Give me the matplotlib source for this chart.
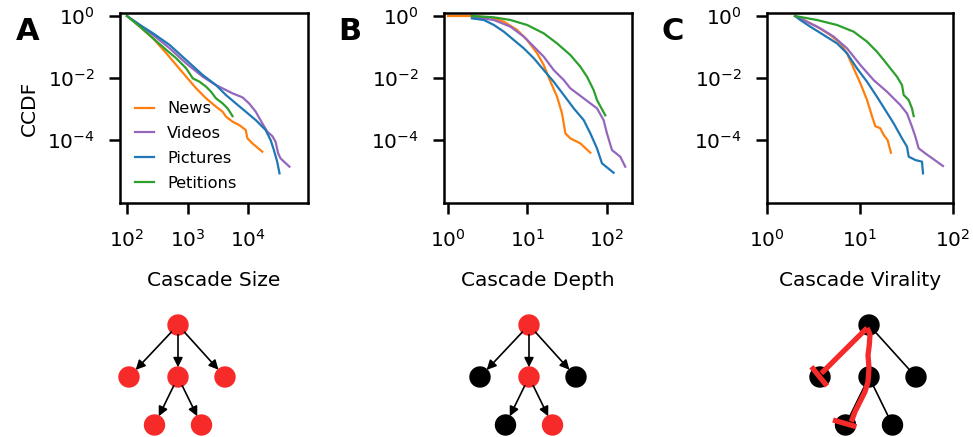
import matplotlib
matplotlib.use("Agg")
import matplotlib.pyplot as plt
from matplotlib.patches import Circle

# ---------------- data: complementary CDFs of cascade structure ----------------
categories = ["News", "Videos", "Pictures", "Petitions"]
colors = {"News": "#ff7f0e", "Videos": "#9467bd", "Pictures": "#1f77b4", "Petitions": "#2ca02c"}

size_news_x = [100, 163, 270, 447, 652, 950, 1386, 2023, 2951, 3795, 4306, 5540, 7120, 9150, 9750, 11780, 17180]
size_news_y = [1.0, 0.453, 0.19, 0.0625, 0.0262, 0.011, 0.00464, 0.00221, 0.00119, 8.2e-4, 5.7e-4, 3.9e-4, 3.05e-4, 2.1e-4, 1.13e-4, 7.8e-5, 4.2e-5]
size_videos_x = [100, 163, 270, 507, 950, 1783, 2951, 4306, 5540, 8070, 10380, 13370, 17180, 20750, 25060, 28430, 31440, 34330, 48200]
size_videos_y = [1.0, 0.513, 0.244, 0.0906, 0.0297, 0.011, 0.0059, 0.0041, 0.0032, 0.00238, 0.00152, 8.2e-4, 3.45e-4, 1.86e-4, 1.35e-4, 8.8e-5, 3.7e-5, 2.56e-5, 1.38e-5]
size_pictures_x = [100, 163, 270, 507, 950, 1783, 2951, 4306, 6280, 9150, 13370, 19500, 23550, 26700, 30260, 33050]
size_pictures_y = [1.0, 0.513, 0.276, 0.116, 0.0381, 0.0125, 0.0059, 0.00283, 0.00152, 8.2e-4, 4.4e-4, 2.1e-4, 1.0e-4, 4.75e-5, 2.0e-5, 8.4e-6]
size_petitions_x = [100, 163, 270, 447, 652, 950, 1222, 1573, 2023, 2443, 2951, 3795, 4580, 5540]
size_petitions_y = [1.0, 0.453, 0.19, 0.08, 0.0431, 0.0205, 0.00976, 0.0076, 0.00525, 0.00362, 0.00221, 0.00152, 0.00105, 5.9e-4]

depth_news_x = [1, 2, 3.44, 5.06, 7.45, 9.95, 13.3, 16.1, 19.6, 23.7, 27.4, 30.2, 34.9, 46.6, 62.3]
depth_news_y = [1.0, 1.0, 0.906, 0.656, 0.353, 0.168, 0.0625, 0.0262, 0.0076, 0.0025, 7.2e-4, 1.64e-4, 1.13e-4, 7.8e-5, 3.9e-5]
depth_videos_x = [2, 3.79, 6.14, 9.03, 12.1, 16.1, 21.5, 28.8, 34.9, 51.4, 75.6, 91.6, 101, 116.8, 148.6, 171.8]
depth_videos_y = [0.95, 0.743, 0.453, 0.216, 0.1025, 0.0488, 0.0181, 0.0086, 0.00464, 0.00221, 0.00105, 4.4e-4, 1.64e-4, 4.75e-5, 2.9e-5, 1.38e-5]
depth_pictures_x = [2, 2.84, 3.79, 5.06, 6.76, 9.03, 12.1, 16.1, 21.5, 28.8, 38.5, 51.4, 62.3, 75.6, 87.4, 122.5]
depth_pictures_y = [0.84, 0.743, 0.513, 0.312, 0.168, 0.0906, 0.0431, 0.0181, 0.0076, 0.00283, 0.00105, 4.4e-4, 1.64e-4, 5.4e-5, 1.77e-5, 8.8e-6]
depth_petitions_x = [2, 3.79, 6.14, 9.95, 16.1, 23.7, 34.9, 46.6, 56.6, 68.6, 75.6, 96.2]
depth_petitions_y = [1.0, 0.906, 0.743, 0.513, 0.276, 0.131, 0.0552, 0.0232, 0.011, 0.0041, 0.00195, 6.25e-4]

vir_news_x = [2, 2.48, 3.45, 4.8, 6.15, 7.25, 8.55, 10.1, 11.9, 13.5, 14.6, 16.5, 18.0, 19.8, 21.5]
vir_news_y = [1.0, 0.743, 0.453, 0.244, 0.131, 0.0625, 0.0205, 0.0067, 0.00195, 5.7e-4, 2.8e-4, 2.4e-4, 1.45e-4, 1.0e-4, 3.9e-5]
vir_videos_x = [2, 2.69, 3.74, 5.21, 7.25, 10.1, 14.0, 19.5, 27.1, 32.0, 36.2, 39.4, 42.7, 50.4, 62.0, 78.0]
vir_videos_y = [1.0, 0.656, 0.4, 0.216, 0.0906, 0.0262, 0.0086, 0.00362, 0.00135, 7.2e-4, 2.7e-4, 1.28e-4, 5.4e-5, 3.7e-5, 2.38e-5, 1.45e-5]
vir_pictures_x = [2, 2.28, 2.92, 4.07, 5.66, 7.25, 9.28, 11.9, 15.2, 18.7, 23.0, 28.3, 32.0, 33.4, 39.4, 46.4, 47.6]
vir_pictures_y = [1.0, 0.743, 0.453, 0.244, 0.131, 0.0625, 0.0205, 0.0076, 0.0025, 9.3e-4, 3.45e-4, 1.13e-4, 6.1e-5, 2.9e-5, 2.26e-5, 2.0e-5, 8.4e-6]
vir_petitions_x = [2, 3.45, 5.66, 8.55, 11.9, 15.2, 18.0, 21.2, 25.0, 28.3, 29.5, 33.4, 36.2, 37.8]
vir_petitions_y = [1.0, 0.743, 0.513, 0.312, 0.149, 0.0707, 0.0381, 0.0205, 0.011, 0.0059, 0.00283, 0.00195, 0.00105, 5.9e-4]

panels = [
    ("A", "Cascade Size", (76.6, 97700), [10**2, 10**3, 10**4], ["$10^2$", "$10^3$", "$10^4$"],
     {"News": (size_news_x, size_news_y), "Videos": (size_videos_x, size_videos_y),
      "Pictures": (size_pictures_x, size_pictures_y), "Petitions": (size_petitions_x, size_petitions_y)}),
    ("B", "Cascade Depth", (0.89, 209), [1, 10, 100], ["$10^0$", "$10^1$", "$10^2$"],
     {"News": (depth_news_x, depth_news_y), "Videos": (depth_videos_x, depth_videos_y),
      "Pictures": (depth_pictures_x, depth_pictures_y), "Petitions": (depth_petitions_x, depth_petitions_y)}),
    ("C", "Cascade Virality", (1, 100), [1, 10, 100], ["$10^0$", "$10^1$", "$10^2$"],
     {"News": (vir_news_x, vir_news_y), "Videos": (vir_videos_x, vir_videos_y),
      "Pictures": (vir_pictures_x, vir_pictures_y), "Petitions": (vir_petitions_x, vir_petitions_y)}),
]
yticks = [1, 1e-2, 1e-4]
ytick_labels = ["$10^0$", "$10^{-2}$", "$10^{-4}$"]

W, H = 973, 437
fig = plt.figure(figsize=(W / 100, H / 100), dpi=100)

lefts = [120, 444, 767]
widths = [188, 188, 186]
ax_top, ax_bot = 13, 203

for i, (letter, xlabel, xlim, xt, xtl, series) in enumerate(panels):
    ax = fig.add_axes([lefts[i] / W, 1 - ax_bot / H, widths[i] / W, (ax_bot - ax_top) / H])
    for name in categories:
        xs, ys = series[name]
        ax.plot(xs, ys, color=colors[name], lw=1.6, label=name)
    ax.set_xscale("log")
    ax.set_yscale("log")
    ax.set_xlim(*xlim)
    ax.set_ylim(9.3e-7, 1.25)
    ax.set_xticks(xt)
    ax.set_xticklabels(xtl)
    ax.set_yticks(yticks)
    ax.set_yticklabels(ytick_labels)
    ax.minorticks_off()
    ax.tick_params(axis="both", which="major", length=8, width=1.8, labelsize=14.5)
    ax.tick_params(axis="y", pad=10)
    ax.tick_params(axis="x", pad=11)
    for sp in ax.spines.values():
        sp.set_linewidth(1.8)
    ax.set_xlabel(xlabel, fontsize=14.5, labelpad=14)
    if i == 0:
        ax.set_ylabel("CCDF", fontsize=14.5, labelpad=6)
        ax.legend(loc="center left", bbox_to_anchor=(0.0, 0.30), frameon=False,
                  fontsize=11.7, handlelength=1.2, handletextpad=0.8, labelspacing=0.6)
    fig.text([28, 350, 673][i] / W, 1 - 31 / H, letter, fontsize=22, fontweight="bold",
             ha="center", va="center")

# ---------------- cascade tree sketches ----------------
tax = fig.add_axes([0, 0, 1, 1], zorder=-1)
tax.set_xlim(0, W)
tax.set_ylim(H, 0)
tax.axis("off")

node_offsets = [(0, 0), (-49, 52), (0, 52), (47, 52), (-23.5, 100), (23.5, 100)]
tree_edges = [(0, 1), (0, 2), (0, 3), (2, 4), (2, 5)]
tree_roots = [(178, 325), (529, 325), (869, 325)]
red = "#f72a2a"
node_colors = [
    [red] * 6,
    [red, "black", red, "black", "black", red],
    ["black"] * 6,
]
arrow_edges = [True, True, False]
r = 10

for (rx, ry), cols, arrows in zip(tree_roots, node_colors, arrow_edges):
    pts = [(rx + dx, ry + dy) for dx, dy in node_offsets]
    for a, b in tree_edges:
        if arrows:
            tax.annotate("", xy=pts[b], xytext=pts[a],
                         arrowprops=dict(arrowstyle="-|>", color="black", lw=1.2,
                                         mutation_scale=14, shrinkA=7, shrinkB=7))
        else:
            tax.plot([pts[a][0], pts[b][0]], [pts[a][1], pts[b][1]], color="black", lw=1.2, zorder=1)
    for (px, py), c in zip(pts, cols):
        tax.add_patch(Circle((px, py), r, color=c, zorder=2))

# virality: paths from the root to two nodes, drawn in red
vx, vy = tree_roots[2]
path_left = [(-2, 3), (-47.6, 48.3)]
bar_left = [(-57.6, 41.7), (-42, 61)]
path_down = [(-2, 3), (1, 9.3), (0.3, 20), (-1, 30), (0, 43), (-1, 56.7), (-4, 66.7),
             (-9, 76.7), (-14, 86.7), (-17.6, 96.7)]
bar_down = [(-36, 95), (-12.6, 101.7)]
for seg in (path_left, bar_left, path_down, bar_down):
    tax.plot([vx + p[0] for p in seg], [vy + p[1] for p in seg], color=red, lw=3.8,
             solid_capstyle="butt", solid_joinstyle="round", zorder=3)

fig.savefig("out.png", dpi=100)
